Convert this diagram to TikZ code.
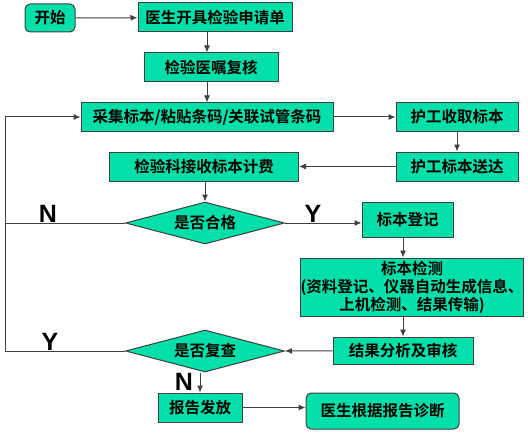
\documentclass[tikz,border=0pt]{standalone}
\usepackage{fontspec}
\setmainfont{Noto Sans CJK SC Bold}
\newfontfamily\latinbold{Liberation Sans}[BoldFont={* Bold}]
\usepackage{tikz}
\usetikzlibrary{shapes,arrows.meta}
\definecolor{boxgreen}{HTML}{00E0A8}

\begin{document}
\begin{tikzpicture}[x=1pt,y=-1pt,>={Latex[length=7pt,width=6pt]},
    box/.style={draw=black!75, line width=1pt, fill=boxgreen,
      inner sep=0pt, font=\fontsize{15.5}{18}\selectfont, align=center},
    endbox/.style={box, rounded corners=5pt},
    yn/.style={font=\latinbold\bfseries\fontsize{25}{25}\selectfont, anchor=south, inner sep=0pt},
    link/.style={draw=black!75, line width=1pt}]

    \useasboundingbox (0,0) rectangle (528,436);

    % row 1
    \node[endbox, minimum width=50, minimum height=28] (start) at (50,18) {开始};
    \node[box, minimum width=154, minimum height=29] (apply) at (215,17.5) {医生开具检验申请单};

    % row 2
    \node[box, minimum width=134, minimum height=29] (review) at (211,67.5) {检验医嘱复核};

    % row 3
    \node[box, minimum width=252, minimum height=28] (collect) at (207,117) {采集标本/粘贴条码/关联试管条码};
    \node[box, minimum width=122, minimum height=28] (fetch) at (457,117) {护工收取标本};

    % row 4
    \node[box, minimum width=189, minimum height=29] (receive) at (204,166.5) {检验科接收标本计费};
    \node[box, minimum width=122, minimum height=29] (deliver) at (457,166.5) {护工标本送达};

    % row 5
    \node[box, diamond, minimum width=159, minimum height=42, shape aspect=3.8] (qualify) at (205,223) {是否合格};
    \node[box, minimum width=91, minimum height=35] (register) at (407.5,219.5) {标本登记};

    % row 6
    \node[box, minimum width=210, minimum height=58] (test) at (412,287)
        {标本检测\\(资料登记、仪器自动生成信息、\\上机检测、结果传输)};

    % row 7
    \node[box, diamond, minimum width=159, minimum height=42, shape aspect=3.8] (recheck) at (205,351) {是否复查};
    \node[box, minimum width=140, minimum height=27] (analyse) at (403,350.5) {结果分析及审核};

    % row 8
    \node[box, minimum width=84, minimum height=29] (release) at (200,407.5) {报告发放};
    \node[endbox, minimum width=153, minimum height=36] (diagnose) at (382.5,411) {医生根据报告诊断};

    % loop back on the left
    \coordinate (nleft) at (5,223);
    \coordinate (yleft) at (5,351);

    % labels
    \node[yn] (nq) at (48,223) {N};
    \node[yn] (yq) at (313,223) {Y};
    \node[yn] (yr) at (50,351) {Y};
    \node[yn] (nr) at (184,391) {N};

    \draw [link, ->] (start) -- (apply);
    \draw [link, ->] (apply.south -| collect) -- (review.north -| collect);
    \draw [link, ->] (review.south -| collect) -- (collect.north -| collect);
    \draw [link, ->] (collect) -- (fetch);
    \draw [link, ->] (fetch) -- (deliver);
    \draw [link, ->] (deliver) -- (receive);
    \draw [link, ->] (receive.south -| qualify) -- (qualify.north);
    \draw [link, ->] (qualify.east) -- (qualify.east -| register.west);
    \draw [link] (qualify.west) -- (nleft);
    \draw [link, ->] (register.south -| analyse) -- (test.north -| analyse);
    \draw [link, ->] (test.south -| analyse) -- (analyse.north);
    \draw [link, ->] (analyse) -- (recheck.east);
    \draw [link, ->] (recheck.west) -- (yleft) -- (collect.west -| yleft) -- (collect.west);
    \draw [link, ->] (recheck.south -| release) -- (release.north);
    \draw [link, ->] (release) -- (release.east -| diagnose.west);

  \end{tikzpicture}
\end{document}
